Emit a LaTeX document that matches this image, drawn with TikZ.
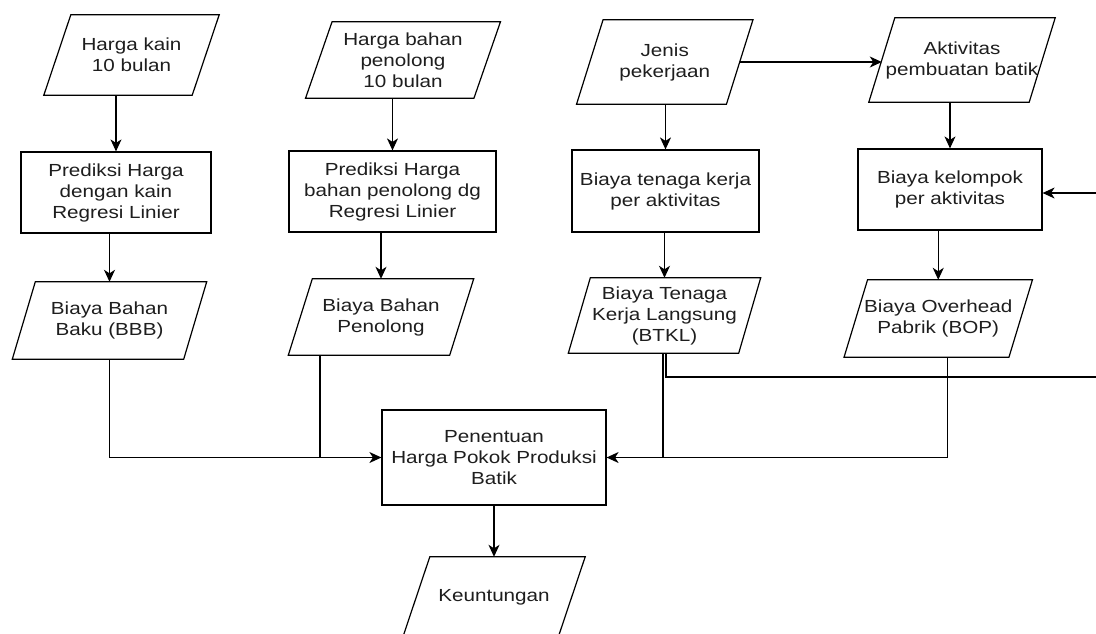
\documentclass[tikz,border=0pt]{standalone}
\usepackage{fontspec}
\setmainfont{Liberation Sans}[FakeStretch=1.18]
\usetikzlibrary{arrows.meta}
\definecolor{txt}{HTML}{1E1E1E}
\newcommand\ioshape[2]{\draw[shp] ([xshift=#2]#1.north west) -- ([xshift=#2]#1.north east) -- ([xshift=-#2]#1.south east) -- ([xshift=-#2]#1.south west) -- cycle;}
\begin{document}
\begin{tikzpicture}[x=1pt,y=-1pt,
  lbl/.style={align=center, inner sep=0pt, text=txt, font=\fontsize{17.5}{21}\selectfont},
  procbox/.style={lbl, draw=black, line width=1.2pt},
  iotxt/.style={lbl},
  shp/.style={draw=black, line width=1.2pt, line join=miter},
  ln/.style={draw=black, line width=1.2pt},
  arr/.style={ln, -{Stealth[length=12pt, width=11pt, inset=3.5pt]}}
]
\useasboundingbox[fill=white] (0,0) rectangle (1096,633);

% left column
\node[iotxt, minimum width=148pt, minimum height=80pt] (kain) at (131.5,55) {Harga kain\\10 bulan};
\ioshape{kain}{13.5pt}
\node[procbox, minimum width=190pt, minimum height=81pt] (pred1) at (116,192.5) {Prediksi Harga\\dengan kain\\Regresi Linier};
\node[iotxt, minimum width=171pt, minimum height=77pt] (bbb) at (109.5,320.5) {Biaya Bahan\\Baku (BBB)};
\ioshape{bbb}{11.5pt}

% second column
\node[iotxt, minimum width=168pt, minimum height=76pt] (hbp) at (403,60) {Harga bahan\\penolong\\10 bulan};
\ioshape{hbp}{13.25pt}
\node[procbox, minimum width=207pt, minimum height=81pt] (pred2) at (392.5,191.5) {Prediksi Harga\\bahan penolong dg\\Regresi Linier};
\node[iotxt, minimum width=161pt, minimum height=76pt] (bbp) at (381,317) {Biaya Bahan\\Penolong};
\ioshape{bbp}{12pt}

% third column
\node[iotxt, minimum width=149.5pt, minimum height=84pt] (jenis) at (664.75,62) {Jenis\\pekerjaan};
\ioshape{jenis}{13.25pt}
\node[procbox, minimum width=187pt, minimum height=82pt] (btk) at (665.5,191) {Biaya tenaga kerja\\per aktivitas};
\node[iotxt, minimum width=170pt, minimum height=75pt] (btkl) at (664.5,315.5) {Biaya Tenaga\\Kerja Langsung\\(BTKL)};
\ioshape{btkl}{11pt}

% fourth column
\node[iotxt, minimum width=160pt, minimum height=84pt] (akt) at (962,60) {Aktivitas\\pembuatan batik};
\ioshape{akt}{13pt}
\node[procbox, minimum width=184pt, minimum height=81pt] (bkel) at (950,189.5) {Biaya kelompok\\per aktivitas};
\node[iotxt, minimum width=164.5pt, minimum height=77pt] (bop) at (938.25,318.5) {Biaya Overhead\\Pabrik (BOP)};
\ioshape{bop}{11.75pt}

% bottom
\node[procbox, minimum width=224pt, minimum height=95pt] (pen) at (494,457.5) {Penentuan\\Harga Pokok Produksi\\Batik};
\node[iotxt, minimum width=155pt, minimum height=80pt] (keu) at (494,597) {Keuntungan};
\ioshape{keu}{13.5pt}

\coordinate (rin) at (1096,193);
\coordinate (rout) at (1096,377);
\coordinate (j1) at (320,457.5);

% connectors
\draw[arr] (pred1.north |- kain.south) -- (pred1.north);
\draw[arr] (bbb.north |- pred1.south) -- (bbb.north);
\draw[arr] (pred2.north |- hbp.south) -- (pred2.north);
\draw[arr] (bbp.north |- pred2.south) -- (bbp.north);
\draw[arr] (jenis.east) -- (akt.west |- jenis.east);
\draw[arr] (btk.north |- jenis.south) -- (btk.north);
\draw[arr] (bkel.north |- akt.south) -- (bkel.north);
\draw[arr] (btkl.north |- btk.south) -- (btkl.north);
\draw[arr] (bop.north |- bkel.south) -- (bop.north);
\draw[arr] (rin) -- (bkel.east |- rin);

\draw[arr] (bbb.south) |- (pen.west);
\draw[ln] (bbp.south -| j1) -- (j1);
\draw[arr] ([xshift=-1.5pt]btkl.south) |- (pen.east);
\draw[ln] ([xshift=9pt]bop.south) |- ([xshift=-1.5pt]btkl.south |- pen.east);
\draw[ln] ([xshift=1.5pt]btkl.south) |- (rout);
\draw[arr] (pen.south) -- (keu.north);
\end{tikzpicture}
\end{document}
